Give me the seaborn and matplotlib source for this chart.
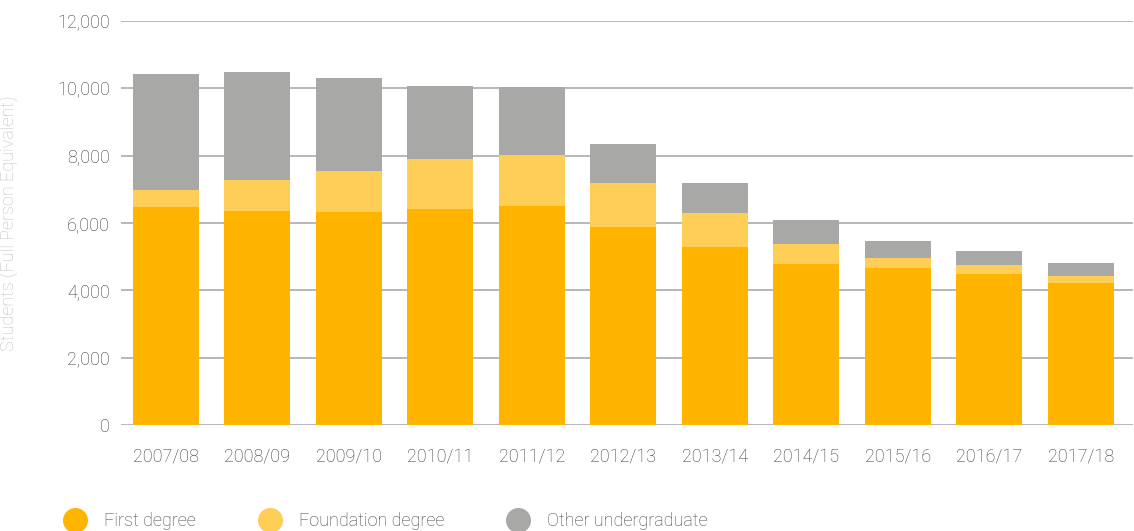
import matplotlib
matplotlib.use("Agg")
import matplotlib.pyplot as plt
from matplotlib.lines import Line2D
import seaborn as sns
import pandas as pd
import numpy as np

years = ["2007/08", "2008/09", "2009/10", "2010/11", "2011/12", "2012/13",
         "2013/14", "2014/15", "2015/16", "2016/17", "2017/18"]
first_degree = [6470, 6370, 6340, 6430, 6500, 5870, 5300, 4790, 4650, 4500, 4230]
foundation_degree = [525, 900, 1190, 1460, 1510, 1310, 985, 600, 300, 240, 210]
other_undergraduate = [3430, 3210, 2780, 2180, 2020, 1160, 895, 685, 510, 420, 360]

c_first = "#FFB500"
c_found = "#FFCE57"
c_other = "#A8A8A6"

sns.set_theme(style="white")
plt.rcParams['font.family'] = ['Roboto', 'DejaVu Sans']
plt.rcParams['font.weight'] = 'light'

df = pd.DataFrame({"year": years, "first": first_degree,
                   "found": foundation_degree, "other": other_undergraduate})
df["lvl2"] = df["first"] + df["found"]
df["lvl3"] = df["lvl2"] + df["other"]

fig = plt.figure(figsize=(11.34, 5.31), dpi=100)
ax = fig.add_axes([121/1134, 1 - 425/531, (1133-121)/1134, (425-21)/531])

for col, color in [("lvl3", c_other), ("lvl2", c_found), ("first", c_first)]:
    sns.barplot(data=df, x="year", y=col, color=color, width=0.72,
                saturation=1, ax=ax, zorder=3, linewidth=0)

ax.set_ylim(0, 12000)
ax.set_xlim(-0.49, 10.57)
ax.set_yticks(np.arange(0, 12001, 2000))
ax.set_yticklabels([f"{v:,}" for v in range(0, 12001, 2000)])
ax.yaxis.grid(True, color="#ababab", linewidth=1.2, zorder=0)
ax.set_axisbelow(True)
for s in ax.spines.values():
    s.set_visible(False)
ax.tick_params(axis="y", length=0, pad=8, labelsize=13, labelcolor="#3a3a3a")
ax.tick_params(axis="x", length=0, pad=16, labelsize=13, labelcolor="#3a3a3a")
ax.set_xlabel("")
ax.set_ylabel("Students (Full Person Equivalent)", color="#c0c0c0",
              fontsize=13, fontweight="light")
ax.yaxis.set_label_coords(-(121 - 18) / 1012, 0.5)

handles = [Line2D([0], [0], marker="o", linestyle="", markersize=17,
                  markerfacecolor=c, markeredgecolor=c) for c in (c_first, c_found, c_other)]
leg = fig.legend(handles, ["First degree", "Foundation degree", "Other undergraduate"],
                 loc="center left", bbox_to_anchor=(50/1134, 1 - 521/531), ncol=3,
                 frameon=False, fontsize=13, handletextpad=1.1, columnspacing=3.6,
                 handlelength=1.0)
for t in leg.get_texts():
    t.set_color("#444444")

fig.savefig("out.png", dpi=100)
